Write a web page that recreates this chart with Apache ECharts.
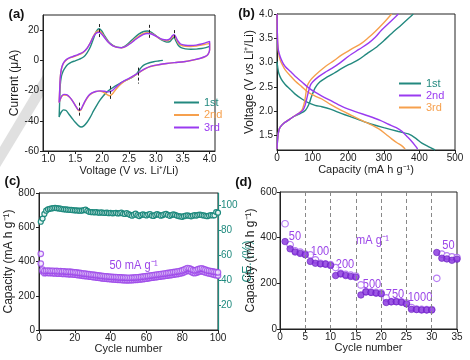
<!DOCTYPE html>
<html><head><meta charset="utf-8">
<script src="https://cdn.jsdelivr.net/npm/echarts@6/dist/echarts.min.js"></script>
<style>html,body{margin:0;padding:0;background:#fff}#c{width:470px;height:360px}</style>
</head><body><div id="c"></div>
<script>
const FONT = "'Liberation Sans',Arial,sans-serif";
const TEAL = '#23897f', ORANGE = '#f6a04d', PURPLE = '#9a3bf0';
const TEAL_C = '#1f8a7e', PURPLE_C = '#9b45e8', PURPLE_D = '#8530dc', PURPLE_O = '#a55cf0';

// ---------- (a) cyclic voltammetry [V, µA] ----------
const cvNames = ['1st', '2nd', '3rd'];
const cv1 = [[3.13,0],[3.05,-0.4],[2.96,-0.9],[2.88,-1.6],[2.8,-2.7],[2.74,-4.2],[2.69,-6.4],[2.65,-8.5],[2.6,-10.2],[2.54,-11.6],[2.46,-12.9],[2.38,-14.3],[2.3,-15.9],[2.22,-17.6],[2.15,-19.2],[2.08,-21.2],[2.02,-23.6],[1.96,-26.4],[1.9,-29.8],[1.84,-33.5],[1.78,-37.6],[1.72,-41],[1.66,-43.4],[1.61,-44.1],[1.56,-43.2],[1.5,-41],[1.44,-38.3],[1.38,-35.5],[1.33,-33.2],[1.28,-32.8],[1.24,-34.2],[1.21,-36.3],[1.2,-37.5],
  [1.21,-27],[1.22,-17],[1.24,-11],[1.27,-7.5],[1.31,-5],[1.36,-2.8],[1.43,-1.2],[1.5,-0.3],[1.58,0.8],[1.66,2.4],[1.72,5],[1.78,8.8],[1.84,14.5],[1.89,19],[1.94,20.9],[1.99,19.6],[2.05,16],[2.12,12.4],[2.2,9.9],[2.28,8.7],[2.36,8.4],[2.44,9.8],[2.52,12.3],[2.6,15],[2.68,17.3],[2.76,18.9],[2.84,19.4],[2.9,18.9],[2.97,17.2],[3.05,14.9],[3.13,13],[3.2,12.1],[3.26,12.4],[3.31,14.5],[3.34,15],[3.37,13],[3.41,10.3],[3.46,8.5],[3.55,7.6],[3.65,7.3],[3.75,7.4],[3.85,7.8],[3.93,8.4],[4.0,9.2]];
const cv2 = [[1.2,-28],[1.21,-20],[1.22,-12],[1.24,-6.3],[1.27,-2.8],[1.31,-0.6],[1.36,0.9],[1.45,2.2],[1.55,3.5],[1.65,5.3],[1.72,7.9],[1.78,11.6],[1.84,16.2],[1.89,18.7],[1.94,19.4],[1.99,18.2],[2.05,15.2],[2.12,12],[2.2,9.7],[2.28,8.6],[2.36,8.3],[2.44,9.3],[2.52,11.3],[2.6,13.7],[2.68,15.9],[2.76,17.6],[2.84,18.3],[2.9,18],[2.97,16.8],[3.05,14.9],[3.13,13.5],[3.2,13],[3.26,13.6],[3.31,15.7],[3.34,16.2],[3.37,14.6],[3.41,11.9],[3.46,10],[3.55,9.3],[3.65,9.2],[3.75,9.5],[3.85,10.1],[3.93,10.7],[4.0,11.2],
  [4.0,6.8],[3.97,3.9],[3.92,2.5],[3.83,1.3],[3.7,0.2],[3.52,-0.9],[3.35,-1.5],[3.2,-2.1],[3.05,-2.9],[2.9,-4.1],[2.8,-5.6],[2.72,-7.3],[2.66,-8.8],[2.58,-10.6],[2.5,-12.3],[2.4,-14.3],[2.32,-16.6],[2.25,-19.5],[2.19,-22.3],[2.14,-23.4],[2.08,-22.4],[2.01,-20.8],[1.94,-20.4],[1.87,-20.8],[1.81,-21.9],[1.75,-23.6],[1.69,-26.8],[1.64,-30.4],[1.6,-33.1],[1.57,-33.4],[1.53,-31.5],[1.47,-28],[1.41,-25],[1.35,-23.2],[1.29,-22.9],[1.25,-23.8],[1.22,-26],[1.2,-28]];
const cv3 = [[1.2,-28],[1.21,-20],[1.22,-12],[1.24,-6],[1.27,-2.5],[1.31,-0.3],[1.36,1.2],[1.45,2.5],[1.55,3.8],[1.65,5.5],[1.72,8],[1.78,11.5],[1.84,15.8],[1.89,18],[1.94,18.6],[1.99,17.5],[2.05,14.8],[2.12,11.8],[2.2,9.6],[2.28,8.6],[2.36,8.3],[2.44,9.2],[2.52,11],[2.6,13.2],[2.68,15.3],[2.76,17],[2.84,17.8],[2.9,17.6],[2.97,16.6],[3.05,15],[3.13,13.8],[3.2,13.5],[3.26,14.2],[3.31,16.4],[3.34,16.9],[3.37,15.5],[3.41,12.8],[3.46,10.8],[3.55,10],[3.65,9.8],[3.75,10.1],[3.85,10.8],[3.93,11.7],[4.0,12.5],
  [4.0,7],[3.97,4],[3.92,2.6],[3.83,1.4],[3.7,0.3],[3.52,-0.9],[3.35,-1.5],[3.2,-2.1],[3.05,-2.9],[2.9,-4.0],[2.8,-5.5],[2.72,-7.2],[2.66,-8.6],[2.58,-10.3],[2.5,-11.9],[2.4,-13.8],[2.32,-15.8],[2.24,-18.3],[2.18,-20.2],[2.12,-20.9],[2.05,-20.5],[1.96,-20.2],[1.88,-20.6],[1.81,-21.6],[1.75,-23.3],[1.69,-26.5],[1.64,-30],[1.6,-32.6],[1.56,-32.8],[1.52,-31],[1.46,-27.5],[1.4,-24.5],[1.34,-22.7],[1.29,-22.5],[1.25,-23.5],[1.22,-25.8],[1.2,-28]];
// dashed peak markers: [V, top µA, bottom µA]
const cvPeakMarks = [[1.95,24,14.7],[2.88,23.5,14],[3.35,20,14],[1.58,-28,-36.8],[2.15,-16.9,-26.4],[2.68,-4.8,-15.4]];
const cvXTicks = [1.0,1.5,2.0,2.5,3.0,3.5,4.0];
const cvYTicks = [-60,-40,-20,0,20];

// ---------- (b) charge/discharge [mAh/g, V] ----------
const gcNames = ['1st', '2nd', '3rd'];
const dis1 = [[0,3.02],[2,2.9],[5,2.78],[12,2.66],[23,2.55],[37,2.45],[51,2.35],[70,2.25],[89,2.17],[107,2.12],[126,2.09],[150,2.04],[182,1.95],[220,1.85],[257,1.75],[300,1.66],[341,1.58],[369,1.53],[390,1.44],[407,1.34],[425,1.27],[444,1.2]];
const cha1 = [[0,1.22],[2,1.45],[5,1.6],[9,1.67],[19,1.75],[35,1.83],[50,1.9],[65,1.95],[80,2.02],[89,2.13],[97,2.3],[107,2.48],[120,2.6],[136,2.68],[160,2.78],[182,2.88],[205,2.97],[229,3.06],[252,3.18],[276,3.3],[300,3.45],[322,3.6],[350,3.78],[383,4.0]];
const dis2 = [[0,4.0],[0.5,3.8],[1,3.6],[2,3.4],[4,3.25],[9,3.12],[16,3.0],[23,2.92],[37,2.82],[51,2.72],[70,2.6],[89,2.48],[107,2.39],[126,2.31],[150,2.22],[182,2.1],[220,1.99],[257,1.9],[290,1.81],[313,1.73],[335,1.66],[350,1.59],[365,1.48],[378,1.38],[388,1.29],[395,1.22]];
const cha2 = [[0,1.22],[2,1.45],[5,1.6],[9,1.67],[19,1.75],[35,1.83],[47,1.89],[60,1.95],[72,2.01],[79,2.12],[85,2.3],[93,2.52],[100,2.6],[117,2.71],[135,2.8],[154,2.88],[178,3.0],[201,3.13],[230,3.27],[257,3.4],[276,3.52],[294,3.67],[320,3.85],[341,4.0]];
const dis3 = [[0,4.0],[0.5,3.8],[1,3.6],[2,3.4],[4,3.22],[9,3.05],[16,2.94],[23,2.85],[37,2.73],[51,2.62],[70,2.5],[89,2.38],[107,2.31],[126,2.25],[150,2.14],[182,2.01],[210,1.91],[238,1.81],[262,1.73],[285,1.64],[305,1.53],[322,1.43],[337,1.35],[350,1.29],[360,1.22]];
const cha3 = [[0,1.22],[2,1.45],[5,1.6],[9,1.67],[19,1.75],[35,1.83],[47,1.89],[60,1.95],[70,2.02],[76,2.15],[80,2.3],[84,2.5],[92,2.62],[107,2.74],[136,2.92],[160,3.04],[182,3.16],[210,3.28],[238,3.40],[258,3.52],[276,3.64],[300,3.82],[322,4.0]];
const gcYTicks = [1.5,2.0,2.5,3.0,3.5,4.0];

// ---------- (c) cycling at 50 mA/g ----------
const capDis = [445,352,345,346,347,346,345,346,344,345,343,344,342,343,341,340,341,339,338,337,336,334,333,331,330,329,327,326,324,323,322,320,319,318,316,315,314,313,312,311,310,309,309,308,307,307,306,306,305,305,305,306,306,307,308,309,310,312,313,315,316,318,319,321,322,324,325,327,328,330,331,333,334,336,338,339,341,343,345,348,352,357,362,360,355,350,348,351,355,358,360,356,352,348,346,344,342,340,338,336];
const capCha = [388,342,332,333,334,332,333,331,330,331,329,330,328,327,328,326,325,326,324,323,322,320,319,318,316,315,314,312,311,309,308,306,305,304,302,301,300,299,298,297,296,295,294,293,293,292,291,291,290,290,291,291,292,293,293,295,296,297,299,300,302,303,305,306,308,309,311,312,314,315,317,318,320,321,323,325,326,328,330,333,337,342,347,345,340,334,332,335,339,342,344,340,336,333,330,328,325,322,320,318];
const ceVals = [86.9,89.5,93.2,95.8,96.9,97.3,97.6,97.9,98.0,97.8,97.6,97.4,97.1,96.9,96.8,96.6,96.5,96.4,96.2,96.1,96.0,95.9,95.8,95.9,96.2,96.6,95.7,94.9,94.7,94.6,94.5,94.6,94.3,94.2,94.4,94.1,94.0,94.2,93.8,94.0,93.7,93.9,94.1,93.6,93.8,94.3,93.5,93.2,93.9,93.1,92.4,91.8,92.6,93.4,92.2,91.5,92.3,92.9,92.5,92.0,92.7,93.1,91.9,91.6,92.4,93.0,92.5,91.8,92.2,92.9,93.2,92.4,91.7,92.3,92.8,92.5,91.9,91.5,91.2,90.9,91.4,91.8,92.1,91.7,91.3,91.8,92.2,91.9,92.4,92.6,92.3,92.0,91.7,91.4,91.9,92.3,92.0,92.1,94.7,94.2];
const ceTicks = [20,40,60,80,100];

// ---------- (d) rate capability ----------
const rateDis = [383,351,337,331,325,296,288,285,284,278,234,241,234,230,227,149,162,160,157,154,116,119,119,117,110,86,85,83,83,83,335,310,307,301,306];
const rateCha = [461,369,342,337,328,325,303,288,285,282,269,244,239,236,232,193,164,162,160,158,136,120,121,119,114,94,87,86,85,85,222,328,320,316,313];
const rateSteps = [5,10,15,20,25,30];
const rateLabels = ['50','100','200','mA g⁻¹','500','750','1000','50'];

// ---------- helpers ----------
const pairs = (arr) => arr.map((v, i) => [i + 1, v]);
function lbl(extra) { return Object.assign({fontFamily: FONT, fontSize: 10, color: '#222', margin: 3}, extra || {}); }
function tick(extra) { return Object.assign({show: true, length: 3, lineStyle: {color: '#222'}}, extra || {}); }
function nameStyle(size, color) {
  const c = color || '#222';
  return {fontFamily: FONT, fontSize: size, color: c, rich: {i: {fontFamily: FONT, fontSize: size, color: c, fontStyle: 'italic'}}};
}
function ax(o) {
  return Object.assign({
    type: 'value', splitLine: {show: false}, nameLocation: 'middle',
    axisLine: {show: true, onZero: false, lineStyle: {color: '#222', width: 1}},
    nameTextStyle: nameStyle(11)
  }, o);
}
function note(text, x, y, color, bold) {
  return {type: 'text', x: x, y: y, scaleX: bold ? 1 : 0.85,
    style: {text: text, font: (bold ? 'bold 13px ' : '13px ') + FONT, fill: color, align: 'center', verticalAlign: 'middle'}};
}
const sym = 'circle';

const option = {
  animation: false,
  backgroundColor: '#fff',
  grid: [
    {left: 43, top: 15, width: 172, height: 136, show: true, borderColor: '#222', borderWidth: 1},
    {left: 277, top: 14, width: 178, height: 136, show: true, borderColor: '#222', borderWidth: 1},
    {left: 39, top: 193, width: 179, height: 137, show: true, borderColor: '#222', borderWidth: 1},
    {left: 280, top: 192, width: 177, height: 137, show: true, borderColor: '#222', borderWidth: 1}
  ],
  xAxis: [
    ax({gridIndex: 0, min: 0.9, max: 4.1, name: 'Voltage (V {i|vs.} Li⁺/Li)', nameGap: 14,
        axisLabel: lbl({customValues: cvXTicks, formatter: v => v.toFixed(1)}), axisTick: tick({customValues: cvXTicks})}),
    ax({gridIndex: 1, min: 0, max: 500, interval: 100, name: 'Capacity (mA h g⁻¹)', nameGap: 14,
        axisLabel: lbl(), axisTick: tick()}),
    ax({gridIndex: 2, min: 0, max: 100, interval: 20, name: 'Cycle number', nameGap: 13,
        axisLabel: lbl(), axisTick: tick()}),
    ax({gridIndex: 3, min: 0, max: 35, interval: 5, name: 'Cycle number', nameGap: 13,
        axisLabel: lbl(), axisTick: tick()})
  ],
  yAxis: [
    ax({gridIndex: 0, min: -60, max: 30, name: 'Current (μA)', nameGap: 20, nameTextStyle: nameStyle(12),
        axisLabel: lbl({customValues: cvYTicks, margin: 4}), axisTick: tick({customValues: cvYTicks})}),
    ax({gridIndex: 1, min: 1.2, max: 4.0, name: 'Voltage (V {i|vs} Li⁺/Li)', nameGap: 19, nameTextStyle: nameStyle(12),
        axisLabel: lbl({customValues: gcYTicks, formatter: v => v.toFixed(1), margin: 4}), axisTick: tick({customValues: gcYTicks})}),
    ax({gridIndex: 2, min: 0, max: 800, interval: 200, name: 'Capacity (mA h g⁻¹)', nameGap: 21, nameTextStyle: nameStyle(12),
        axisLabel: lbl({margin: 4}), axisTick: tick()}),
    ax({gridIndex: 2, min: 0, max: 110, position: 'right', name: 'CE. (%)', nameGap: 22,
        nameTextStyle: nameStyle(12, TEAL_C),
        axisLine: {show: true, onZero: false, lineStyle: {color: TEAL_C, width: 1.2}},
        axisLabel: lbl({customValues: ceTicks, color: TEAL_C, margin: 3}), axisTick: tick({customValues: ceTicks, lineStyle: {color: TEAL_C}})}),
    ax({gridIndex: 3, min: 0, max: 600, interval: 200, name: 'Capacity (mA h g⁻¹)', nameGap: 11, nameTextStyle: nameStyle(12),
        axisLabel: lbl({margin: 3}), axisTick: tick()})
  ],
  legend: [
    {orient: 'vertical', left: 168, top: 92, itemWidth: 25, itemHeight: 12, itemGap: 1.5, selectedMode: false,
     itemStyle: {opacity: 0}, textStyle: {fontFamily: FONT, fontSize: 11},
     data: [{name: '1st', textStyle: {color: TEAL}}, {name: '2nd', textStyle: {color: ORANGE}}, {name: '3rd', textStyle: {color: PURPLE}}]},
    {orient: 'vertical', left: 393, top: 73, itemWidth: 22, itemHeight: 10, itemGap: 1, selectedMode: false,
     itemStyle: {opacity: 0}, textStyle: {fontFamily: FONT, fontSize: 11}, formatter: n => n.slice(1),
     data: [{name: 'b1st', textStyle: {color: TEAL}}, {name: 'b2nd', textStyle: {color: PURPLE}}, {name: 'b3rd', textStyle: {color: ORANGE}}]}
  ],
  graphic: [
    {type: 'polygon', z: -10, shape: {points: [[43,75],[43,96],[0,167],[0,147]]}, style: {fill: '#e0e0e0'}},
    note('(a)', 16.5, 14, '#111', true),
    note('(b)', 246.5, 13, '#111', true),
    note('(c)', 12.5, 181.5, '#111', true),
    note('(d)', 243.5, 182, '#111', true),
    note('50 mA g⁻¹', 133.5, 265, PURPLE_C),
    note(rateLabels[0], 295, 236.5, PURPLE_C),
    note(rateLabels[1], 320, 251.5, PURPLE_C),
    note(rateLabels[2], 345, 264.5, PURPLE_C),
    note(rateLabels[3], 372.5, 240, PURPLE_C),
    note(rateLabels[4], 372, 284, PURPLE_C),
    note(rateLabels[5], 395, 294.5, PURPLE_C),
    note(rateLabels[6], 420, 297.5, PURPLE_C),
    note(rateLabels[7], 448.5, 245, PURPLE_C)
  ],
  series: [
    {name: '1st', type: 'line', xAxisIndex: 0, yAxisIndex: 0, data: cv1, symbol: 'none', smooth: 0.3, color: TEAL, lineStyle: {color: TEAL, width: 1.4},
     markLine: {silent: true, symbol: ['none', 'none'], label: {show: false}, lineStyle: {type: [3, 2], color: '#222', width: 1},
       data: cvPeakMarks.map(m => [{coord: [m[0], m[1]]}, {coord: [m[0], m[2]]}])}},
    {name: '2nd', type: 'line', xAxisIndex: 0, yAxisIndex: 0, data: cv2, symbol: 'none', smooth: 0.3, color: ORANGE, lineStyle: {color: ORANGE, width: 1.4}},
    {name: '3rd', type: 'line', xAxisIndex: 0, yAxisIndex: 0, data: cv3, symbol: 'none', smooth: 0.3, color: PURPLE, lineStyle: {color: PURPLE, width: 1.4}},

    {name: 'b1st', type: 'line', xAxisIndex: 1, yAxisIndex: 1, data: dis1, symbol: 'none', smooth: 0.3, color: TEAL, lineStyle: {color: TEAL, width: 1.4}},
    {name: 'b1st', type: 'line', xAxisIndex: 1, yAxisIndex: 1, data: cha1, symbol: 'none', smooth: 0.3, color: TEAL, lineStyle: {color: TEAL, width: 1.4}},
    {name: 'b3rd', type: 'line', xAxisIndex: 1, yAxisIndex: 1, data: dis3, symbol: 'none', smooth: 0.3, color: ORANGE, lineStyle: {color: ORANGE, width: 1.4}},
    {name: 'b3rd', type: 'line', xAxisIndex: 1, yAxisIndex: 1, data: cha3, symbol: 'none', smooth: 0.3, color: ORANGE, lineStyle: {color: ORANGE, width: 1.4}},
    {name: 'b2nd', type: 'line', xAxisIndex: 1, yAxisIndex: 1, data: dis2, symbol: 'none', smooth: 0.3, color: PURPLE, lineStyle: {color: PURPLE, width: 1.4}},
    {name: 'b2nd', type: 'line', xAxisIndex: 1, yAxisIndex: 1, data: cha2, symbol: 'none', smooth: 0.3, color: PURPLE, lineStyle: {color: PURPLE, width: 1.4}},

    {name: 'CE', type: 'line', xAxisIndex: 2, yAxisIndex: 3, data: pairs(ceVals), symbol: sym, symbolSize: 5,
     lineStyle: {color: TEAL_C, width: 1}, itemStyle: {color: '#e8f4f2', borderColor: TEAL_C, borderWidth: 1.2}},
    {name: 'capCha', type: 'scatter', xAxisIndex: 2, yAxisIndex: 2, data: pairs(capCha), symbol: sym, symbolSize: 5.5,
     itemStyle: {color: '#f1e6fc', borderColor: PURPLE_C, borderWidth: 1.2}},
    {name: 'capDis', type: 'scatter', xAxisIndex: 2, yAxisIndex: 2, data: pairs(capDis), symbol: sym, symbolSize: 5.5,
     itemStyle: {color: '#f1e6fc', borderColor: PURPLE_C, borderWidth: 1.2}},

    {name: 'rateCha', type: 'scatter', xAxisIndex: 3, yAxisIndex: 4, data: pairs(rateCha), symbol: sym, symbolSize: 6.5,
     itemStyle: {color: '#fff', borderColor: PURPLE_O, borderWidth: 1.2},
     markLine: {silent: true, symbol: ['none', 'none'], label: {show: false}, lineStyle: {type: [4, 3], color: '#888', width: 1},
       data: rateSteps.map(s => ({xAxis: s}))}},
    {name: 'rateDis', type: 'scatter', xAxisIndex: 3, yAxisIndex: 4, data: pairs(rateDis), symbol: sym, symbolSize: 6.5,
     itemStyle: {color: PURPLE_D, borderColor: '#6a1fc0', borderWidth: 0.8}}
  ]
};
const chart = echarts.init(document.getElementById('c'), null, {renderer: 'canvas'});
chart.setOption(option);
</script></body></html>
